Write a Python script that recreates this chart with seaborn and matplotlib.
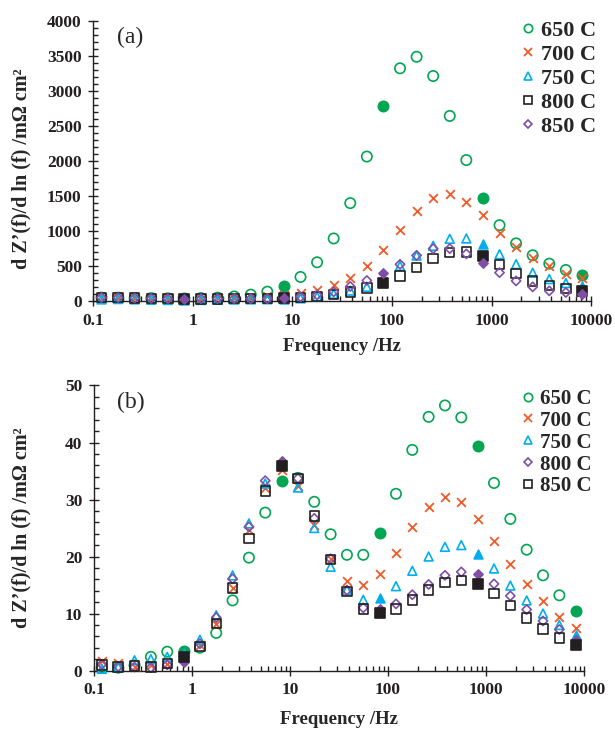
import matplotlib
matplotlib.use("Agg")
import matplotlib.pyplot as plt
from matplotlib.lines import Line2D
from matplotlib.ticker import MultipleLocator, LogLocator, NullFormatter
import pandas as pd
import seaborn as sns

# Measurement frequencies (6 points per decade), Hz
freq_hz = [0.1204, 0.1767, 0.2593, 0.3806, 0.5586, 0.82, 1.204, 1.767, 2.593, 3.806,
           5.586, 8.2, 12.04, 17.67, 25.93, 38.06, 55.86, 82.0, 120.4, 176.7,
           259.3, 380.6, 558.6, 820.0, 1204.0, 1767.0, 2593.0, 3806.0, 5586.0, 8200.0]
# points at whole decades (x 0.82) are drawn filled
filled_idx = [5, 11, 17, 23, 29]

# Panel (a): dZ'/dln f, mOhm cm2
temps_a = ["650 C", "700 C", "750 C", "800 C", "850 C"]
drt_a_650 = [45, 45, 40, 38, 35, 33, 38, 45, 62, 88, 130, 205, 340, 550, 890, 1395, 2060,
             2775, 3320, 3485, 3210, 2640, 2010, 1465, 1080, 820, 650, 530, 440, 370]
drt_a_700 = [40, 40, 35, 30, 28, 25, 28, 35, 40, 50, 62, 80, 105, 160, 225, 330, 495,
             728, 1010, 1285, 1475, 1530, 1415, 1220, 975, 775, 615, 490, 380, 320]
drt_a_750 = [20, 25, 20, 15, 12, 10, 12, 15, 18, 20, 22, 25, 35, 60, 100, 145, 200,
             330, 497, 645, 785, 885, 890, 805, 665, 523, 400, 310, 253, 205]
drt_a_800 = [45, 45, 40, 35, 30, 25, 28, 28, 30, 30, 32, 35, 45, 60, 88, 125, 180,
             250, 355, 473, 601, 686, 696, 636, 515, 393, 284, 222, 175, 142]
drt_a_850 = [45, 45, 40, 35, 30, 28, 30, 30, 30, 30, 30, 35, 57, 85, 128, 205, 290,
             400, 521, 648, 745, 745, 670, 544, 402, 284, 199, 142, 118, 95]

# Panel (b)
temps_b = ["650 C", "700 C", "750 C", "800 C", "850 C"]
drt_b_650 = [0.6, 0.5, 0.9, 2.4, 3.3, 3.4, 4.0, 6.6, 12.3, 19.8, 27.7, 33.3, 33.8, 29.6, 23.9,
             20.3, 20.3, 24.1, 31.0, 38.7, 44.5, 46.5, 44.4, 39.4, 32.9, 26.6, 21.2, 16.7, 13.2, 10.4]
drt_b_700 = [1.6, 1.4, 0.7, 0.9, 1.1, 2.5, 4.4, 8.2, 14.5, 24.6, 32.0, 35.2, 32.4, 25.6, 19.5,
             15.7, 15.0, 16.9, 20.6, 25.1, 28.7, 30.5, 29.6, 26.6, 22.7, 18.7, 15.1, 12.2, 9.4, 7.5]
drt_b_750 = [0.3, 0.6, 1.8, 2.0, 2.4, 3.0, 5.4, 9.7, 16.7, 25.8, 32.8, 36.0, 32.1, 25.0, 18.2,
             14.1, 12.4, 12.7, 14.8, 17.5, 20.0, 21.7, 22.0, 20.4, 17.9, 14.9, 12.3, 10.0, 8.0, 6.3]
drt_b_800 = [1.1, 0.7, 0.6, 0.5, 1.0, 1.5, 4.7, 9.3, 16.1, 25.2, 33.3, 36.8, 33.7, 26.7, 19.6,
             14.1, 11.0, 10.8, 11.7, 13.3, 15.1, 16.7, 17.3, 16.9, 15.2, 13.1, 10.7, 8.7, 7.2, 5.4]
drt_b_850 = [1.0, 0.6, 0.8, 0.6, 1.2, 2.4, 4.2, 8.2, 14.5, 23.2, 31.5, 35.8, 33.7, 27.1, 19.5,
             13.9, 10.8, 10.1, 10.8, 12.4, 14.1, 15.4, 15.8, 15.1, 13.5, 11.4, 9.2, 7.3, 5.7, 4.4]

xtick_vals = [0.1, 1, 10, 100, 1000, 10000]
xtick_labels = ["0.1", "1", "10", "100", "1000", "10000"]

GREEN = "#00a651"
ORANGE = "#f15a29"
CYAN = "#00aeef"
BLACK = "#231f20"
PURPLE = "#7f4fa5"

# marker, colour, area (pt^2), edge width
style_a = {
    "650 C": ("o", GREEN, 55, 1.2),
    "700 C": ("x", ORANGE, 40, 1.3),
    "750 C": ("^", CYAN, 40, 1.2),
    "800 C": ("s", BLACK, 46, 1.2),
    "850 C": ("D", PURPLE, 22, 1.2),
}
style_b = {
    "650 C": ("o", GREEN, 55, 1.2),
    "700 C": ("x", ORANGE, 40, 1.3),
    "750 C": ("^", CYAN, 40, 1.2),
    "800 C": ("D", PURPLE, 22, 1.2),
    "850 C": ("s", BLACK, 46, 1.2),
}

sns.set_style("ticks")
plt.rcParams["font.family"] = ["Liberation Serif", "DejaVu Serif"]
plt.rcParams["font.weight"] = "bold"
plt.rcParams["axes.labelweight"] = "bold"


def long_table(temps, series):
    rows = []
    for t, vals in zip(temps, series):
        for i, (f, v) in enumerate(zip(freq_hz, vals)):
            rows.append({"freq": f, "drt": v, "temp": t, "filled": i in filled_idx})
    return pd.DataFrame(rows)


def draw_panel(ax, df, temps, styles, ymax, ymajor, yminor, tag, leg_anchor, leg_fs,
               leg_spacing, ylab_pos, xlab_y):
    for t in temps:
        marker, col, s, lw = styles[t]
        sub = df[df["temp"] == t]
        if marker == "x":
            sns.scatterplot(data=sub, x="freq", y="drt", marker=marker, color=col, s=s,
                            linewidth=lw, ax=ax, clip_on=False, zorder=3, legend=False)
            continue
        opn = sub[~sub["filled"]]
        fil = sub[sub["filled"]]
        sns.scatterplot(data=opn, x="freq", y="drt", marker=marker, color=col,
                        facecolor="none", edgecolor=col, s=s, linewidth=lw, ax=ax,
                        clip_on=False, zorder=3, legend=False)
        sns.scatterplot(data=fil, x="freq", y="drt", marker=marker, color=col,
                        facecolor=col, edgecolor=col, s=s, linewidth=lw, ax=ax,
                        clip_on=False, zorder=3, legend=False)

    ax.set_xscale("log")
    ax.set_xlim(0.1, 10000)
    ax.set_ylim(0, ymax)
    ax.set_xticks(xtick_vals)
    ax.set_xticklabels(xtick_labels)
    ax.xaxis.set_minor_locator(LogLocator(base=10, subs=range(2, 10), numticks=20))
    ax.xaxis.set_minor_formatter(NullFormatter())
    ax.yaxis.set_major_locator(MultipleLocator(ymajor))
    ax.yaxis.set_minor_locator(MultipleLocator(yminor))
    ax.tick_params(which="major", direction="inout", length=7, width=1.0,
                   labelsize=12.5, pad=5, colors="#231f20")
    ax.tick_params(which="minor", direction="in", length=3.5, width=1.0, colors="#231f20")
    for lab in ax.get_xticklabels() + ax.get_yticklabels():
        lab.set_fontweight("bold")
    sns.despine(ax=ax)
    for sp in ("left", "bottom"):
        ax.spines[sp].set_linewidth(1.0)
        ax.spines[sp].set_color("#231f20")

    ax.set_xlabel("Frequency /Hz", fontsize=13.5, fontweight="bold")
    ax.set_ylabel("d Z\u2019(f)/d ln (f) /m\u03a9 cm\u00b2", fontsize=14.5, fontweight="bold")
    ax.xaxis.set_label_coords(0.5, xlab_y)
    ax.yaxis.set_label_coords(*ylab_pos)

    ax.text(0.047, 0.94, tag, transform=ax.transAxes, fontsize=17, fontweight="normal",
            ha="left", va="center")

    handles = []
    for t in temps:
        marker, col, s, lw = styles[t]
        ms = 6.0 if marker != "D" else 4.3
        if marker == "x":
            h = Line2D([], [], ls="none", marker=marker, color=col, ms=ms, mew=lw)
        else:
            h = Line2D([], [], ls="none", marker=marker, mfc="none", mec=col, ms=ms, mew=lw)
        handles.append(h)
    ax.legend(handles, temps, loc="upper left", bbox_to_anchor=leg_anchor, frameon=False,
              borderpad=0, borderaxespad=0, handlelength=0.6, handletextpad=0.3,
              labelspacing=leg_spacing, prop={"size": leg_fs, "weight": "bold"})


fig = plt.figure(figsize=(6.15, 7.29), dpi=100)
ax_a = fig.add_axes([0.152, 0.5874, 0.809, 0.3842])
ax_b = fig.add_axes([0.1528, 0.0802, 0.797, 0.391])

df_a = long_table(temps_a, [drt_a_650, drt_a_700, drt_a_750, drt_a_800, drt_a_850])
df_b = long_table(temps_b, [drt_b_650, drt_b_700, drt_b_750, drt_b_800, drt_b_850])

draw_panel(ax_a, df_a, temps_a, style_a, 4000, 500, 100, "(a)", (0.859, 1.0), 16, 0.15,
           (-0.124, 0.47), -0.132)
draw_panel(ax_b, df_b, temps_b, style_b, 50, 10, 2, "(b)", (0.872, 0.988), 15, 0.09,
           (-0.127, 0.5), -0.142)

fig.savefig("out.png", dpi=100)
